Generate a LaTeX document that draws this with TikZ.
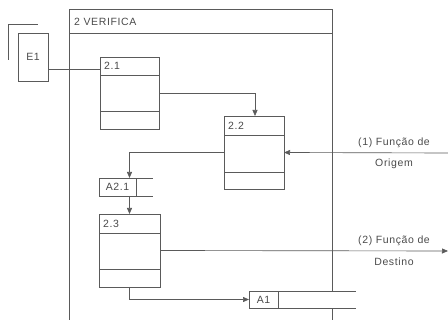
\documentclass[tikz,border=0pt]{standalone}
\usepackage{fontspec}
\setmainfont[LetterSpace=6]{Liberation Sans}
\usetikzlibrary{arrows.meta,calc}
\definecolor{ln}{HTML}{5A5A5A}
\definecolor{tx}{HTML}{4A4A4A}
\tikzset{
  base/.style={draw=ln, line width=0.65pt},
  box/.style={base, fill=white, anchor=north west, inner sep=0pt, outer sep=0pt},
  lbl/.style={text=tx, font=\fontsize{10.5}{12}\selectfont, inner sep=0pt},
  arr/.style={base, -{Triangle[length=6pt,width=5pt]}},
  con/.style={base}
}
\begin{document}
\begin{tikzpicture}[x=1pt,y=-1pt]
\useasboundingbox (0,0) rectangle (448,320);
% corner mark
\draw[base] (8,60) -- (8,24) -- (38,24);
% frame
\draw[base] (69,320) -- (69,9) -- (332,9) -- (332,320);
\draw[base] (69,33) -- (332,33);
\node[lbl, anchor=west] (title) at (74,21.5) {2 VERIFICA};
% external entity
\node[box, minimum width=30pt, minimum height=48pt] (E1) at (18,33) {};
\node[lbl] (E1t) at (E1.center) {E1};
% process 2.1
\node[box, minimum width=59pt, minimum height=72pt] (p21) at (100,57) {};
\draw[base] (100,75) -- (159,75);
\draw[base] (100,111) -- (159,111);
\node[lbl, anchor=west] (p21t) at (104,66) {2.1};
% process 2.2
\node[box, minimum width=60pt, minimum height=73pt] (p22) at (224,116) {};
\draw[base] (224,135) -- (284,135);
\draw[base] (224,172) -- (284,172);
\node[lbl, anchor=west] (p22t) at (228,125.5) {2.2};
% process 2.3
\node[box, minimum width=61pt, minimum height=73pt] (p23) at (99,214) {};
\draw[base] (99,233) -- (160,233);
\draw[base] (99,269) -- (160,269);
\node[lbl, anchor=west] (p23t) at (103,223.5) {2.3};
% store A2.1
\node[box, minimum width=37pt, minimum height=18pt] (a21) at (99,178) {};
\draw[base] (a21.north east) -- (153,178);
\draw[base] (a21.south east) -- (153,196);
\node[lbl] (a21t) at (a21.center) {A2.1};
% store A1
\fill[white] (249,291) rectangle (356,308);
\node[box, minimum width=29pt, minimum height=17pt] (A1) at (249,291) {};
\draw[base] (A1.north east) -- (356,291);
\draw[base] (A1.south east) -- (356,308);
\node[lbl] (A1t) at (A1.center) {A1};
% connectors
\coordinate (in1) at (448,153);
\coordinate (out2) at (448,251);
\draw[con] ([yshift=-12pt]E1.east) -- ([yshift=-12pt]E1.east -| p21.west);
\draw[arr] (p21.east) -| ([xshift=1pt]p22.north);
\draw[arr] (in1) -- (p22.east);
\draw[arr] (p22.west) -| (a21.north -| p23.north);
\draw[arr] (a21.south -| p23.north) -- (p23.north);
\draw[arr] (p23.east) -- (out2);
\draw[arr] (p23.south) |- (A1.west);
% labels
\node[lbl] (o1) at (394,143) {(1) Função de};
\node[lbl] (o2) at (394,164) {Origem};
\node[lbl] (d1) at (394,241) {(2) Função de};
\node[lbl] (d2) at (394,262) {Destino};
\end{tikzpicture}
\end{document}
